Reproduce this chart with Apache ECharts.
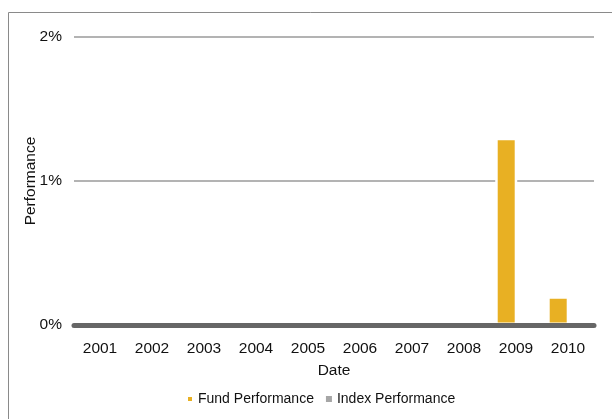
<!DOCTYPE html>
<html>
<head>
<meta charset="utf-8">
<script src="https://cdn.jsdelivr.net/npm/echarts@6/dist/echarts.min.js"></script>
<style>html,body{margin:0;padding:0;background:#fff}#c{width:612px;height:419px}</style>
</head>
<body>
<div id="c"></div>
<script>
var categories = ['2001','2002','2003','2004','2005','2006','2007','2008','2009','2010'];
var fundPerformance = [0, 0, 0, 0, 0, 0, 0, 0, 1.3, 0.2];
var indexPerformance = [0, 0, 0, 0, 0, 0, 0, 0, 0, 0];
var yTicks = [0, 1, 2];

var chart = echarts.init(document.getElementById('c'), null, {renderer: 'canvas'});
var font = 'Liberation Sans, Arial, sans-serif';
chart.setOption({
  animation: false,
  textStyle: {fontFamily: font},
  graphic: [{
    type: 'rect', silent: true, z: -10,
    shape: {x: 8.5, y: 12.5, width: 700, height: 500},
    style: {fill: 'none', stroke: '#8a8a8a', lineWidth: 1}
  }],
  grid: {left: 74, right: 18, top: 37, bottom: 94, containLabel: false},
  legend: {
    left: 181, top: 387,
    itemWidth: 6, itemHeight: 6, itemGap: 12,
    icon: 'rect',
    textStyle: {fontFamily: font, fontSize: 14, color: '#111'},
    data: ['Fund Performance', 'Index Performance']
  },
  xAxis: {
    type: 'category', data: categories, z: 10,
    name: 'Date', nameLocation: 'middle', nameGap: 38, nameMoveOverlap: false,
    nameTextStyle: {fontFamily: font, fontSize: 15.5, color: '#111'},
    axisLine: {show: true, lineStyle: {color: '#666', width: 5, cap: 'round'}},
    axisTick: {show: false},
    axisLabel: {fontFamily: font, fontSize: 15.5, color: '#111', margin: 16, interval: 0}
  },
  yAxis: {
    type: 'value', min: 0, max: 2, interval: 1,
    name: 'Performance', nameLocation: 'middle', nameGap: 35, nameMoveOverlap: false,
    nameTextStyle: {fontFamily: font, fontSize: 15.5, color: '#111'},
    axisLine: {show: false}, axisTick: {show: false},
    axisLabel: {fontFamily: font, fontSize: 15.5, color: '#111', margin: 12,
      formatter: function (v) { return yTicks.indexOf(v) >= 0 ? v + '%' : ''; }},
    splitLine: {show: true, lineStyle: {color: '#9a9a9a', width: 1.5}}
  },
  series: [{
    name: 'Fund Performance', type: 'bar', data: fundPerformance,
    barWidth: 22, barGap: '-11%',
    itemStyle: {color: '#E8B023', borderColor: '#fff', borderWidth: 2.5}
  }, {
    name: 'Index Performance', type: 'bar', data: indexPerformance,
    barWidth: 22,
    itemStyle: {color: '#a6a6a6', borderColor: '#fff', borderWidth: 0}
  }]
});
</script>
</body>
</html>
